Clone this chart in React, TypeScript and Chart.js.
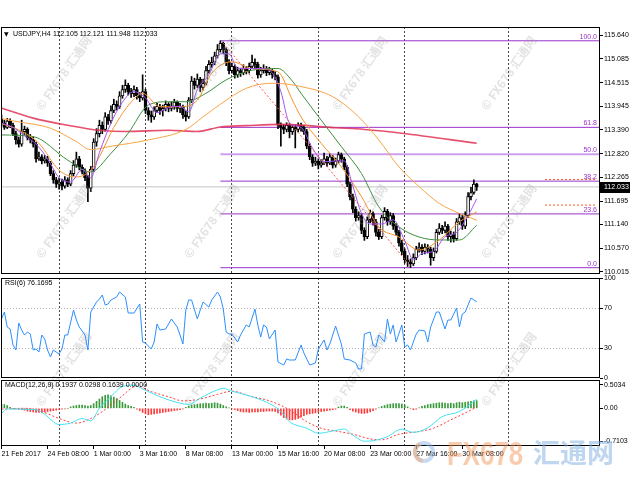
import React, { useEffect, useRef } from "react";
import { Chart, registerables } from "chart.js";

Chart.register(...registerables);

const FONT = "'Liberation Sans', 'DejaVu Sans', Arial, sans-serif";
const CJK = "'Noto Sans CJK SC', 'Noto Sans', sans-serif";

// ---------------- DATA ----------------
const symbolLabel = "USDJPY,H4";
const ohlcLabel = "112.105 112.121 111.948 112.033";
const lastPrice = 112.033;

const opens = [
  113.65, 113.55, 113.45, 113.6, 113.5, 113.3, 113.15, 113.05, 113.35, 113.4,
  113.2, 113.15, 113.05, 112.7, 112.75, 112.65, 112.7, 112.6, 112.35, 112.2,
  112.1, 112.15, 112.05, 112.2, 112.1, 112.35, 112.55, 112.7, 112.5, 112.4,
  112.25, 112.0, 112.45, 113.1, 113.3, 113.5, 113.4, 113.7, 113.6, 113.85,
  114.0, 113.95, 114.2, 114.35, 114.45, 114.3, 114.25, 114.35, 114.2, 114.15,
  114.3, 113.85, 113.75, 113.7, 113.85, 113.95, 113.85, 113.9, 114.0, 113.9,
  113.95, 114.05, 113.9, 113.95, 113.75, 113.7, 114.1, 114.55, 114.45, 114.6,
  114.4, 114.5, 114.8, 114.95, 115.0, 115.15, 115.3, 115.45, 115.3, 115.0,
  114.8, 114.9, 114.7, 114.8, 114.75, 114.85, 114.8, 114.9, 115.0, 114.95,
  114.7, 114.8, 114.85, 114.75, 114.8, 114.7, 114.65, 113.5, 113.45, 113.4,
  113.5, 113.35, 113.45, 113.4, 113.5, 113.45, 113.35, 113.0, 112.75, 112.6,
  112.65, 112.55, 112.6, 112.7, 112.6, 112.75, 112.55, 112.65, 112.8, 112.7,
  112.5, 112.1, 111.8, 111.5, 111.3, 111.35, 111.0, 110.85, 111.25, 111.4,
  111.2, 110.95, 110.85, 111.3, 111.45, 111.2, 111.35, 111.1, 110.95, 110.7,
  110.5, 110.3, 110.25, 110.2, 110.35, 110.55, 110.6, 110.5, 110.6, 110.55,
  110.35, 110.5, 110.95, 111.05, 111.0, 111.1, 110.85, 110.9, 110.8, 111.2,
  111.3, 111.1, 111.35, 111.8, 111.9, 112.105,
];
const highs = [
  113.74, 113.62, 113.66, 113.65, 113.55, 113.36, 113.22, 113.62, 113.48, 113.44,
  113.28, 113.22, 113.1, 112.86, 112.8, 112.78, 112.76, 112.64, 112.42, 112.26,
  112.24, 112.22, 112.28, 112.25, 112.42, 112.66, 112.86, 112.76, 112.56, 112.46,
  112.3, 112.52, 113.18, 113.42, 113.62, 113.58, 113.8, 113.76, 113.96, 114.12,
  114.08, 114.3, 114.45, 114.58, 114.5, 114.38, 114.44, 114.4, 114.28, 114.7,
  114.36, 113.92, 113.84, 113.94, 114.02, 114.0, 113.98, 114.08, 114.04, 114.06,
  114.12, 114.08, 114.02, 113.98, 113.84, 114.16, 114.66, 114.62, 114.72, 114.64,
  114.6, 114.9, 115.04, 115.12, 115.24, 115.42, 115.51, 115.48, 115.34, 115.06,
  114.98, 114.94, 114.88, 114.86, 114.94, 114.9, 114.98, 115.17, 115.08, 115.0,
  114.88, 114.94, 114.9, 114.88, 114.84, 114.78, 114.7, 113.56, 113.52, 113.56,
  113.54, 113.52, 113.52, 113.56, 113.55, 113.5, 113.4, 113.06, 112.8, 112.74,
  112.7, 112.68, 112.84, 112.76, 112.82, 112.78, 112.72, 112.86, 112.84, 112.74,
  112.54, 112.14, 111.86, 111.56, 111.44, 111.4, 111.06, 111.32, 111.48, 111.44,
  111.26, 111.02, 111.36, 111.54, 111.5, 111.42, 111.4, 111.16, 111.0, 110.76,
  110.56, 110.4, 110.32, 110.44, 110.62, 110.7, 110.66, 110.68, 110.66, 110.6,
  110.58, 111.02, 111.16, 111.12, 111.2, 111.14, 110.98, 110.96, 111.28, 111.4,
  111.36, 111.44, 111.9, 112.02, 112.2, 112.121,
];
const lows = [
  113.48, 113.4, 113.42, 113.44, 113.25, 113.05, 112.98, 113.0, 113.28, 113.15,
  113.08, 112.98, 112.62, 112.66, 112.58, 112.6, 112.52, 112.3, 112.12, 112.02,
  111.98, 111.96, 112.0, 112.04, 112.06, 112.3, 112.5, 112.44, 112.34, 112.18,
  111.68, 111.92, 112.4, 113.0, 113.22, 113.3, 113.36, 113.52, 113.55, 113.8,
  113.86, 113.9, 114.14, 114.28, 114.22, 114.16, 114.18, 114.12, 114.06, 114.1,
  113.78, 113.62, 113.57, 113.64, 113.8, 113.76, 113.72, 113.84, 113.82, 113.84,
  113.88, 113.82, 113.8, 113.66, 113.6, 113.66, 114.04, 114.36, 114.4, 114.3,
  114.34, 114.46, 114.74, 114.88, 114.94, 115.1, 115.24, 115.2, 114.92, 114.72,
  114.74, 114.62, 114.64, 114.66, 114.7, 114.72, 114.74, 114.86, 114.84, 114.62,
  114.64, 114.74, 114.68, 114.7, 114.62, 114.58, 113.42, 113.0, 113.3, 113.34,
  113.2, 113.28, 112.96, 113.34, 113.36, 113.28, 112.94, 112.68, 112.52, 112.54,
  112.46, 112.5, 112.56, 112.52, 112.56, 112.48, 112.5, 112.6, 112.62, 112.44,
  112.04, 111.72, 111.42, 111.22, 111.24, 110.92, 110.76, 110.8, 111.18, 111.12,
  110.86, 110.78, 110.8, 111.24, 111.12, 111.14, 111.02, 110.88, 110.62, 110.42,
  110.22, 110.14, 110.11, 110.16, 110.3, 110.48, 110.42, 110.44, 110.46, 110.17,
  110.28, 110.46, 110.9, 110.92, 110.94, 110.76, 110.72, 110.72, 110.76, 111.14,
  111.02, 111.04, 111.3, 111.72, 111.86, 111.948,
];
const closes = [
  113.55, 113.45, 113.6, 113.5, 113.3, 113.15, 113.05, 113.35, 113.4, 113.2,
  113.15, 113.05, 112.7, 112.75, 112.65, 112.7, 112.6, 112.35, 112.2, 112.1,
  112.15, 112.05, 112.2, 112.1, 112.35, 112.55, 112.7, 112.5, 112.4, 112.25,
  112.0, 112.45, 113.1, 113.3, 113.5, 113.4, 113.7, 113.6, 113.85, 114.0,
  113.95, 114.2, 114.35, 114.45, 114.3, 114.25, 114.35, 114.2, 114.15, 114.3,
  113.85, 113.75, 113.7, 113.85, 113.95, 113.85, 113.9, 114.0, 113.9, 113.95,
  114.05, 113.9, 113.95, 113.75, 113.7, 114.1, 114.55, 114.45, 114.6, 114.4,
  114.5, 114.8, 114.95, 115.0, 115.15, 115.3, 115.45, 115.3, 115.0, 114.8,
  114.9, 114.7, 114.8, 114.75, 114.85, 114.8, 114.9, 115.0, 114.95, 114.7,
  114.8, 114.85, 114.75, 114.8, 114.7, 114.65, 113.5, 113.45, 113.4, 113.5,
  113.35, 113.45, 113.4, 113.5, 113.45, 113.35, 113.0, 112.75, 112.6, 112.65,
  112.55, 112.6, 112.7, 112.6, 112.75, 112.55, 112.65, 112.8, 112.7, 112.5,
  112.1, 111.8, 111.5, 111.3, 111.35, 111.0, 110.85, 111.25, 111.4, 111.2,
  110.95, 110.85, 111.3, 111.45, 111.2, 111.35, 111.1, 110.95, 110.7, 110.5,
  110.3, 110.25, 110.2, 110.35, 110.55, 110.6, 110.5, 110.6, 110.55, 110.35,
  110.5, 110.95, 111.05, 111.0, 111.1, 110.85, 110.9, 110.8, 111.2, 111.3,
  111.1, 111.35, 111.8, 111.9, 112.1, 112.033,
];

// moving averages (bar index, value)
const maFastBars = [0, 4, 8, 12, 16, 20, 24, 28, 31, 34, 38, 42, 46, 50, 54, 58, 62, 65, 68, 72, 76, 79, 82, 86, 90, 94, 97, 100, 104, 108, 112, 116, 119, 122, 125, 128, 132, 136, 140, 143, 146, 150, 154, 158, 162, 165];
const maFastVals = [113.55, 113.45, 113.25, 113.05, 112.7, 112.25, 112.15, 112.45, 112.25, 112.85, 113.55, 114.05, 114.3, 114.15, 113.8, 113.92, 113.95, 113.82, 114.35, 114.7, 115.2, 115.2, 114.85, 114.85, 114.85, 114.75, 114.3, 113.55, 113.45, 112.95, 112.63, 112.65, 112.65, 112.05, 111.4, 111.15, 111.15, 111.25, 110.75, 110.3, 110.45, 110.5, 110.85, 110.95, 111.35, 111.75];
const maMidBars = [0, 6, 13, 20, 26, 31, 34, 39, 45, 49, 55, 62, 68, 73, 80, 87, 96, 101, 104, 111, 118, 125, 131, 138, 145, 152, 159, 165];
const maMidVals = [113.54, 113.39, 113.07, 112.43, 112.27, 112.43, 112.75, 113.45, 114.05, 114.26, 113.94, 113.94, 114.1, 114.74, 115.01, 114.85, 114.77, 114.1, 113.7, 113.07, 112.51, 111.8, 111.08, 110.84, 110.53, 110.77, 111.2, 111.44];
const maGreenBars = [0, 11, 23, 31, 38, 44, 51, 58, 64, 71, 78, 87, 96, 101, 104, 111, 118, 125, 131, 138, 145, 152, 159, 165];
const maGreenVals = [113.27, 113.23, 112.67, 112.39, 112.83, 113.31, 113.98, 114.06, 114.06, 114.26, 114.58, 114.81, 114.85, 114.55, 114.26, 113.62, 112.99, 112.35, 111.56, 111.08, 110.84, 110.77, 110.77, 111.12];
const maSlowBars = [0, 6, 17, 26, 31, 38, 51, 64, 70, 76, 85, 94, 104, 115, 124, 131, 138, 145, 152, 159, 165];
const maSlowVals = [113.66, 113.58, 113.43, 113.11, 112.92, 113.0, 113.15, 113.4, 113.7, 114.0, 114.38, 114.5, 114.42, 114.18, 113.7, 113.15, 112.51, 112.04, 111.64, 111.4, 111.24];
const maLongBars = [0, 11, 23, 34, 43, 58, 68, 76, 85, 97, 116, 126, 139, 165];
const maLongVals = [113.91, 113.67, 113.5, 113.38, 113.35, 113.38, 113.35, 113.46, 113.49, 113.52, 113.44, 113.4, 113.31, 113.07];

const trendBars = [77, 142];
const trendVals = [115.45, 110.15];

const fibStartBar = 76;
const fibLevels = [115.51, 113.45, 112.81, 112.17, 111.39, 110.11];
const fibLabels = ["100.0", "61.8", "50.0", "38.2", "23.6", "0.0"];
const markBars = [188.7, 206.4];
const markLevels = [112.21, 111.6];

const priceTicks = [115.64, 115.085, 114.515, 113.945, 113.39, 112.82, 112.265, 111.695, 111.14, 110.57, 110.015];

// RSI(6)
const rsiBars = [
  0, 1, 2, 3, 4, 5, 6, 7, 8, 9,
  10, 11, 12, 13, 14, 15, 16, 17, 18, 19,
  20, 21, 22, 23, 25, 26, 27, 29, 30, 31,
  33, 34, 35, 36, 37, 38, 40, 41, 43, 44,
  46, 48, 49, 50, 52, 53, 54, 55, 57, 58,
  59, 61, 62, 63, 64, 65, 66, 68, 69, 70,
  72, 73, 75, 76, 77, 78, 79, 80, 82, 83,
  85, 86, 88, 89, 90, 91, 92, 93, 95, 96,
  98, 99, 100, 102, 104, 105, 106, 107, 109, 110,
  112, 113, 114, 116, 118, 119, 121, 123, 124, 125,
  126, 128, 129, 130, 131, 133, 134, 135, 136, 137,
  139, 140, 141, 142, 144, 145, 147, 148, 149, 151,
  152, 154, 155, 156, 158, 159, 160, 161, 163, 165,
];
const rsiVals = [
  59, 66, 51, 49, 33, 28, 55, 48, 43, 46,
  44, 28, 29, 26, 43, 39, 28, 21, 28, 26,
  24, 29, 43, 43, 68, 58, 51, 43, 28, 66,
  76, 79, 83, 73, 74, 78, 81, 86, 81, 65,
  65, 74, 36, 35, 29, 36, 54, 48, 49, 54,
  59, 51, 43, 34, 68, 78, 78, 59, 68, 76,
  71, 78, 86, 81, 69, 46, 44, 44, 36, 43,
  53, 51, 69, 53, 41, 53, 51, 39, 48, 16,
  13, 19, 18, 18, 33, 25, 19, 13, 15, 29,
  38, 28, 34, 52, 34, 19, 18, 15, 9, 9,
  44, 46, 33, 31, 43, 36, 59, 44, 53, 36,
  53, 31, 33, 28, 44, 48, 47, 36, 51, 66,
  66, 49, 58, 58, 70, 51, 64, 66, 80, 76.17,
];
const rsiTicks = [100, 70, 30, 0];
const rsiLevels = [70, 30];

// MACD(12,26,9)
const macdBars = [0, 2, 12, 15, 20, 24, 28, 31, 34, 38, 42, 46, 49, 55, 62, 65, 69, 75, 77, 80, 86, 94, 97, 100, 106, 110, 115, 119, 122, 126, 129, 134, 139, 143, 148, 153, 159, 165];
const macdVals = [-0.11, -0.015, -0.03, -0.13, -0.35, -0.32, -0.22, -0.27, 0.0, 0.25, 0.47, 0.5, 0.42, 0.25, 0.11, 0.086, 0.22, 0.4, 0.43, 0.37, 0.27, 0.07, -0.07, -0.29, -0.43, -0.54, -0.49, -0.45, -0.58, -0.71, -0.7, -0.61, -0.45, -0.52, -0.42, -0.18, -0.07, 0.1937];
const signalBars = [0, 8, 14, 20, 26, 30, 35, 41, 47, 52, 58, 63, 69, 75, 80, 86, 94, 100, 106, 111, 117, 122, 128, 132, 138, 145, 150, 156, 162, 165];
const signalVals = [-0.015, 0.0, -0.07, -0.22, -0.32, -0.25, -0.07, 0.22, 0.48, 0.36, 0.25, 0.16, 0.2, 0.3, 0.37, 0.27, 0.14, -0.036, -0.29, -0.43, -0.5, -0.56, -0.66, -0.68, -0.56, -0.5, -0.43, -0.25, -0.07, 0.0298];
const histVals = [
  0.09, 0.08, 0.06, 0.02, 0.0, -0.01, -0.02, -0.03, -0.04, -0.06,
  -0.07, -0.08, -0.09, -0.09, -0.09, -0.08, -0.07, -0.06, -0.05, -0.04,
  -0.03, -0.02, -0.01, 0.0, 0.03, 0.05, 0.06, 0.07, 0.07, 0.06,
  0.05, 0.06, 0.1, 0.15, 0.2, 0.25, 0.28, 0.29, 0.27, 0.24,
  0.21, 0.17, 0.13, 0.09, 0.06, 0.04, 0.02, -0.02, -0.05, -0.09,
  -0.12, -0.14, -0.13, -0.12, -0.11, -0.1, -0.09, -0.08, -0.07, -0.06,
  -0.05, -0.04, -0.03, -0.01, 0.02, 0.05, 0.07, 0.08, 0.09, 0.1,
  0.1, 0.11, 0.1, 0.11, 0.12, 0.11, 0.09, 0.06, 0.03, 0.01,
  -0.01, -0.03, -0.05, -0.07, -0.08, -0.08, -0.09, -0.08, -0.08, -0.08,
  -0.07, -0.07, -0.06, -0.06, -0.06, -0.07, -0.1, -0.15, -0.2, -0.23,
  -0.25, -0.25, -0.24, -0.22, -0.19, -0.16, -0.13, -0.12, -0.11, -0.1,
  -0.08, -0.07, -0.06, -0.05, -0.04, -0.03, -0.02, 0.03, 0.05, 0.05,
  0.02, -0.03, -0.06, -0.08, -0.1, -0.11, -0.11, -0.1, -0.08, -0.05,
  -0.02, 0.01, 0.04, 0.06, 0.08, 0.09, 0.1, 0.1, 0.1, 0.09,
  0.07, 0.03, -0.01, -0.03, -0.02, 0.01, 0.04, 0.06, 0.08, 0.09,
  0.1, 0.11, 0.12, 0.12, 0.11, 0.1, 0.11, 0.1, 0.12, 0.13,
  0.12, 0.13, 0.14, 0.15, 0.16, 0.1639,
];
const macdTicks = [0.5034, 0, -0.7103];
const macdTickLabels = ["0.5034", "0.00", "-0.7103"];

const dateBars = [0, 16, 32, 48, 64, 80, 96, 112, 128, 144, 160];
const dateLabels = ["21 Feb 2017", "24 Feb 08:00", "1 Mar 00:00", "3 Mar 16:00", "8 Mar 08:00", "13 Mar 00:00", "15 Mar 16:00", "20 Mar 08:00", "23 Mar 00:00", "27 Mar 16:00", "30 Mar 08:00"];
const gridBars = [20, 50, 80, 110, 140, 176];

// ---------------- LAYOUT / STYLE ----------------
const X_MIN = -0.17;
const X_MAX = 207.8;

const pts = (bars: number[], vals: number[]) => bars.map((b, i) => ({ x: b, y: vals[i] }));

const lineDs = (data: any[], color: string, width: number, order: number, dash: number[] = [], smooth = true) => ({
  type: "line",
  data,
  borderColor: color,
  borderWidth: width,
  borderDash: dash,
  pointRadius: 0,
  fill: false,
  cubicInterpolationMode: smooth ? "monotone" : "default",
  tension: 0,
  order,
});

const gridAxis = (id: string) => ({
  type: "linear",
  min: X_MIN,
  max: X_MAX,
  position: "bottom",
  offset: false,
  afterBuildTicks: (s: any) => {
    s.ticks = gridBars.map((v) => ({ value: v }));
  },
  afterFit: (s: any) => {
    s.height = 0;
  },
  ticks: { display: false },
  grid: { drawOnChartArea: true, drawTicks: false, color: "#4a4a4a", lineWidth: 1, offset: false },
  border: { display: false, dash: [2, 2] },
});

const yAxisBase = (min: number, max: number, ticks: number[], fmt: (v: number, i: number) => string) => ({
  type: "linear",
  position: "right",
  min,
  max,
  afterBuildTicks: (s: any) => {
    s.ticks = ticks.map((v) => ({ value: v }));
  },
  afterFit: (s: any) => {
    s.width = 30;
  },
  ticks: {
    callback: (v: any, i: number) => fmt(Number(v), i),
    font: { family: FONT, size: 7 },
    color: "#000",
    padding: 1,
    autoSkip: false,
  },
  grid: { drawOnChartArea: false, drawTicks: true, tickLength: 3, color: "#000", tickColor: "#000" },
  border: { display: false },
});

const framePlugin = {
  id: "frame",
  afterDraw(chart: any) {
    const { ctx, chartArea: a } = chart;
    ctx.save();
    ctx.strokeStyle = "#000";
    ctx.lineWidth = 1;
    ctx.strokeRect(Math.round(a.left) + 0.5, Math.round(a.top) + 0.5, Math.round(a.right - a.left) - 1, Math.round(a.bottom - a.top) - 1);
    ctx.restore();
  },
};

const wmX = [42, 190, 338, 487];
const wmY = [104, 252, 400];

const mainTextPlugin = {
  id: "mainText",
  afterDraw(chart: any) {
    const { ctx } = chart;
    const ys = chart.scales.y;
    ctx.save();
    // fibonacci labels
    ctx.font = `7px ${FONT}`;
    ctx.fillStyle = "#9933CC";
    ctx.textAlign = "right";
    ctx.textBaseline = "bottom";
    fibLevels.forEach((lv, i) => ctx.fillText(fibLabels[i], 597, ys.getPixelForValue(lv) - 0.5));
    // header
    ctx.fillStyle = "#000";
    ctx.textAlign = "left";
    ctx.textBaseline = "middle";
    ctx.font = `6px 'DejaVu Sans', sans-serif`;
    ctx.fillText("▼", 4, 34);
    ctx.font = `7px ${FONT}`;
    ctx.fillText(symbolLabel, 13, 34);
    ctx.fillText(ohlcLabel, 53, 34);
    // last price box
    const py = ys.getPixelForValue(lastPrice);
    ctx.fillStyle = "#000";
    ctx.fillRect(600, Math.round(py) - 5, 30, 11);
    ctx.fillStyle = "#fff";
    ctx.fillText(lastPrice.toFixed(3), 604, Math.round(py) + 0.5);
    // watermarks
    ctx.font = `bold 12px ${CJK}`;
    ctx.fillStyle = "rgba(150,150,150,0.28)";
    ctx.textBaseline = "middle";
    wmY.forEach((wy) =>
      wmX.forEach((wx) => {
        ctx.save();
        ctx.translate(wx, wy);
        ctx.rotate((-55 * Math.PI) / 180);
        ctx.fillText("© FX678 汇通网", -6, 0);
        ctx.restore();
      })
    );
    ctx.restore();
  },
};

const rsiTextPlugin = {
  id: "rsiText",
  afterDraw(chart: any) {
    const { ctx } = chart;
    ctx.save();
    ctx.font = `7px ${FONT}`;
    ctx.fillStyle = "#000";
    ctx.textAlign = "left";
    ctx.textBaseline = "middle";
    ctx.fillText("RSI(6) 76.1695", 5, 283);
    ctx.restore();
  },
};

const macdTextPlugin = {
  id: "macdText",
  afterDraw(chart: any) {
    const { ctx } = chart;
    ctx.save();
    ctx.font = `7px ${FONT}`;
    ctx.fillStyle = "#000";
    ctx.textAlign = "left";
    ctx.textBaseline = "middle";
    ctx.fillText("MACD(12,26,9) 0.1937 0.0298 0.1639 0.0000", 5, 385.5);
    // FX678 logo
    ctx.globalAlpha = 0.5;
    ctx.lineWidth = 4;
    ctx.strokeStyle = "#8db8e8";
    ctx.beginPath();
    ctx.arc(424, 452, 9, 0, Math.PI * 2);
    ctx.stroke();
    ctx.strokeStyle = "#f5a66c";
    ctx.beginPath();
    ctx.arc(424, 452, 9, Math.PI * 0.55, Math.PI * 1.35);
    ctx.stroke();
    ctx.fillStyle = "#f59a60";
    ctx.font = `bold 34px ${FONT}`;
    ctx.textBaseline = "alphabetic";
    ctx.save();
    ctx.translate(447, 465);
    ctx.scale(0.76, 1);
    ctx.fillText("FX678", 0, 0);
    ctx.restore();
    ctx.fillStyle = "#7eaee0";
    ctx.font = `bold 27px ${CJK}`;
    ctx.textBaseline = "middle";
    ctx.fillText("汇通网", 533, 453);
    ctx.restore();
  },
};

const baseOptions = {
  responsive: false,
  animation: false,
  devicePixelRatio: 1,
  events: [],
  plugins: { legend: { display: false }, tooltip: { enabled: false } },
};

export default function App() {
  const mainRef = useRef<HTMLCanvasElement>(null);
  const rsiRef = useRef<HTMLCanvasElement>(null);
  const macdRef = useRef<HTMLCanvasElement>(null);

  useEffect(() => {
    const wickData = closes.map((c, i) => ({ x: i, y: [lows[i], highs[i]] }));
    const bodyData = closes.map((c, i) => ({ x: i, y: [opens[i], c] }));
    const bodyColors = closes.map((c, i) => (c >= opens[i] ? "#ffffff" : "#000000"));

    const main = new Chart(mainRef.current as HTMLCanvasElement, {
      type: "bar",
      data: {
        datasets: [
          ...fibLevels.map((lv, i) =>
            lineDs([{ x: fibStartBar, y: lv }, { x: X_MAX, y: lv }], i === 2 ? "#cf9ef2" : "#9933CC", i === 2 ? 2 : 1, 20, [], false)
          ),
          lineDs([{ x: X_MIN, y: lastPrice }, { x: X_MAX, y: lastPrice }], "#c4c4c4", 1, 21, [], false),
          ...markLevels.map((lv) => lineDs([{ x: markBars[0], y: lv }, { x: markBars[1], y: lv }], "#ff5a1f", 1, 19, [2, 2], false)),
          lineDs(pts(maLongBars, maLongVals), "rgba(226,48,84,0.85)", 1.6, 4),
          {
            type: "bar",
            data: wickData,
            backgroundColor: "#000",
            barThickness: 1,
            grouped: false,
            order: 6,
          },
          {
            type: "bar",
            data: bodyData,
            backgroundColor: bodyColors,
            borderColor: "#000",
            borderWidth: 1,
            borderSkipped: false,
            barThickness: 3,
            grouped: false,
            order: 5,
          },
          lineDs(pts(maSlowBars, maSlowVals), "#fba445", 1, 3),
          lineDs(pts(maGreenBars, maGreenVals), "#3d8f3d", 1, 3),
          lineDs(pts(maMidBars, maMidVals), "#f7922a", 1, 2),
          lineDs(pts(maFastBars, maFastVals), "#a255f0", 1, 1),
          lineDs(pts(trendBars, trendVals), "#ff5050", 1, 0, [2, 2], false),
        ],
      },
      options: {
        ...baseOptions,
        layout: { padding: { left: 1, top: 27, right: 0, bottom: 216 } },
        scales: {
          x: gridAxis("x"),
          y: yAxisBase(109.96, 115.838, priceTicks, (v) => v.toFixed(3)),
        },
      } as any,
      plugins: [framePlugin, mainTextPlugin],
    } as any);

    const rsi = new Chart(rsiRef.current as HTMLCanvasElement, {
      type: "line",
      data: {
        datasets: [lineDs(pts(rsiBars, rsiVals), "#2b8fff", 1, 0, [], false)],
      },
      options: {
        ...baseOptions,
        layout: { padding: { left: 1, top: 278, right: 0, bottom: 112 } },
        scales: {
          x: gridAxis("x"),
          y: {
            ...yAxisBase(0, 100, rsiTicks, (v) => String(v)),
            grid: {
              drawOnChartArea: true,
              drawTicks: true,
              tickLength: 3,
              tickColor: "#000",
              color: (c: any) => (c.tick && rsiLevels.includes(c.tick.value) ? "#b5b5b5" : "rgba(0,0,0,0)"),
            },
            border: { display: false, dash: [1, 2] },
          },
        },
      } as any,
      plugins: [framePlugin, rsiTextPlugin],
    } as any);

    const macd = new Chart(macdRef.current as HTMLCanvasElement, {
      type: "bar",
      data: {
        datasets: [
          {
            type: "bar",
            data: histVals.map((v, i) => ({ x: i, y: v })),
            backgroundColor: histVals.map((v) => (v >= 0 ? "#3a9a3a" : "#ff3a3a")),
            barThickness: 1,
            grouped: false,
            order: 3,
          },
          lineDs(pts(signalBars, signalVals), "#ff3b3b", 1, 2, [2, 2]),
          lineDs(pts(macdBars, macdVals), "#3fe3f2", 1, 1),
        ],
      },
      options: {
        ...baseOptions,
        layout: { padding: { left: 1, top: 380, right: 0, bottom: 0 } },
        scales: {
          x: {
            type: "linear",
            min: X_MIN,
            max: X_MAX,
            position: "bottom",
            offset: false,
            afterBuildTicks: (s: any) => {
              s.ticks = dateBars.map((v) => ({ value: v }));
            },
            afterFit: (s: any) => {
              s.height = 44;
            },
            ticks: {
              callback: (_v: any, i: number) => dateLabels[i] ?? "",
              align: "start",
              font: { family: FONT, size: 7 },
              color: "#000",
              maxRotation: 0,
              minRotation: 0,
              autoSkip: false,
              padding: 1,
            },
            grid: { drawOnChartArea: false, drawTicks: true, tickLength: 3, color: "#000", offset: false },
            border: { display: false },
          },
          xg: gridAxis("xg"),
          y: yAxisBase(-0.814, 0.611, macdTicks, (_v, i) => macdTickLabels[i]),
        },
      } as any,
      plugins: [framePlugin, macdTextPlugin],
    } as any);

    return () => {
      main.destroy();
      rsi.destroy();
      macd.destroy();
    };
  }, []);

  const cs: React.CSSProperties = { position: "absolute", left: 0, top: 0, width: 630, height: 490 };
  return (
    <div style={{ position: "fixed", left: 0, top: 0, width: 630, height: 490, background: "#fff", overflow: "hidden" }}>
      <canvas ref={mainRef} width={630} height={490} style={cs} />
      <canvas ref={rsiRef} width={630} height={490} style={cs} />
      <canvas ref={macdRef} width={630} height={490} style={cs} />
    </div>
  );
}
